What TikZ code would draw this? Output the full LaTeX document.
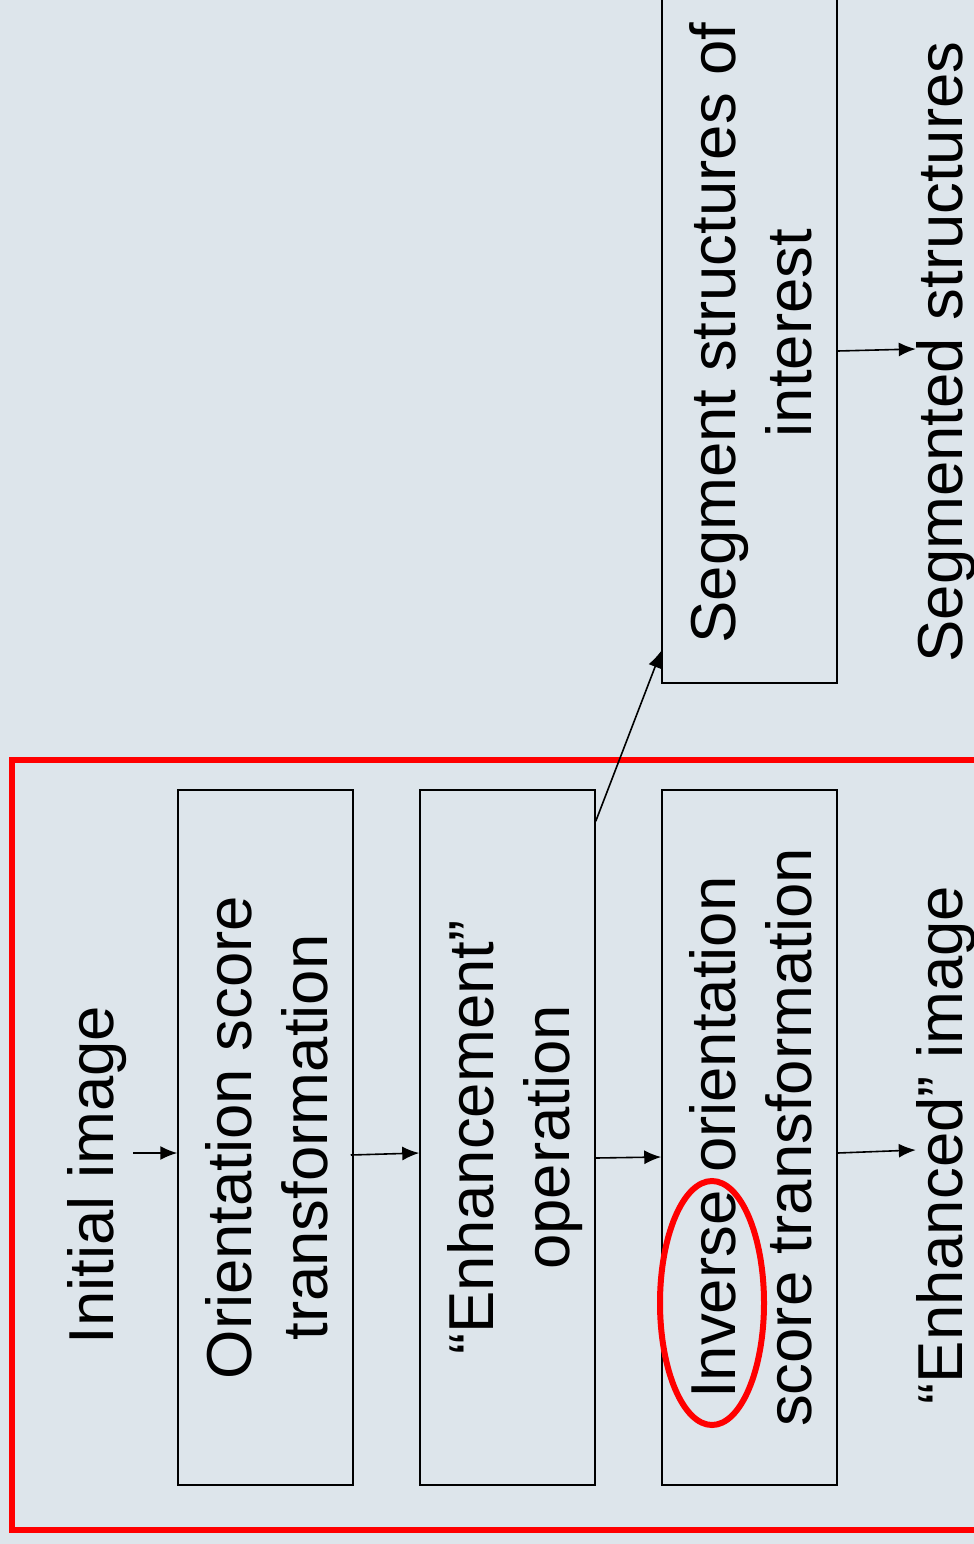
\documentclass[tikz,border=0pt]{standalone}
\usepackage{fontspec}
\setmainfont{Liberation Sans}
\usetikzlibrary{arrows.meta}
\definecolor{bgcol}{RGB}{221,229,235}
\newcommand{\boxtext}[2]{\rotatebox{90}{\raisebox{-9pt}[\height][\depth]{\begin{tabular}{@{}c@{}}#1\\#2\end{tabular}}}}
\tikzset{
  stagebox/.style={draw=black, line width=1.5pt, inner sep=0pt, minimum width=175pt, minimum height=695pt,
    font=\fontsize{63.5}{75.6}\selectfont},
  freetext/.style={rotate=90, anchor=base, inner sep=0pt, font=\fontsize{63.5}{75.6}\selectfont},
  arr/.style={draw=black, line width=1.6pt, -{Latex[length=17pt,width=14pt]}},
  redline/.style={draw=red, line width=6pt}
}
\begin{document}
\begin{tikzpicture}[x=1pt, y=-1pt]
\useasboundingbox (0,0) rectangle (974,1544);
\fill[bgcol] (0,0) rectangle (974,1544);
% red frame
\draw[redline] (12,760) rectangle (1000,1530);
% nodes
\node[freetext] (init) at (113,1175) {Initial image};
\node[stagebox] (b1) at (265.5,1137.5) {\boxtext{Orientation score}{transformation}};
\node[stagebox] (b2) at (507.5,1137.5) {\boxtext{“Enhancement”}{operation}};
\node[stagebox] (b3) at (749.5,1137.5) {\boxtext{Inverse orientation}{score transformation}};
\node[stagebox, minimum height=700pt] (b4) at (749.5,333) {\boxtext{Segment structures of}{interest}};
\node[freetext] (enh) at (962,1145) {“Enhanced” image};
\node[freetext] (seg) at (962,352) {Segmented structures};
% ellipse highlight
\draw[redline] (712,1303) ellipse [x radius=52, y radius=122];
% connectors
\draw[arr] ([shift={(7pt,22pt)}]init.south) -- ([yshift=-15.5pt]b1.west);
\draw[arr] ([shift={(-3pt,-17.5pt)}]b1.east) -- ([yshift=-15.5pt]b2.west);
\draw[arr] ([yshift=-20.5pt]b2.east) -- ([yshift=-19.5pt]b3.west);
\draw[arr] ([yshift=-15.5pt]b3.east) -- ([yshift=-5pt]enh.north);
\draw[arr] ([yshift=-18pt]b4.east) -- ([yshift=3pt]seg.north);
\draw[arr] ([yshift=-32pt]b2.north east) -- ([yshift=33pt]b4.south west);
\end{tikzpicture}
\end{document}
